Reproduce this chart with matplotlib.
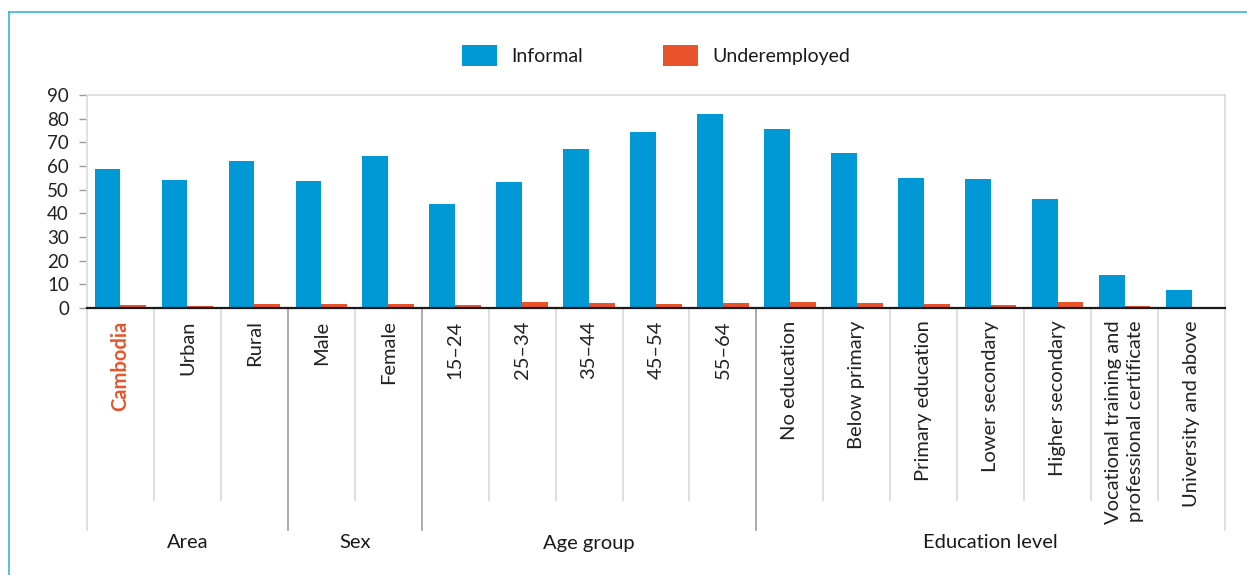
import matplotlib
matplotlib.use("Agg")
import matplotlib.pyplot as plt
from matplotlib.patches import Patch
from matplotlib.lines import Line2D

plt.rcParams['font.family'] = ['Lato', 'DejaVu Sans']

categories = ["Cambodia", "Urban", "Rural", "Male", "Female",
              "15\u201324", "25\u201334", "35\u201344", "45\u201354", "55\u201364",
              "No education", "Below primary", "Primary education",
              "Lower secondary", "Higher secondary",
              "Vocational training and\nprofessional certificate",
              "University and above"]
informal = [58.7, 54.1, 62.1, 53.6, 64.2,
            43.9, 53.2, 67.2, 74.4, 82.0,
            75.6, 65.5, 54.9, 54.5, 46.0, 13.9, 7.6]
underemployed = [1.3, 0.9, 1.7, 1.7, 1.7,
                 1.3, 2.5, 2.1, 1.7, 2.1,
                 2.5, 2.1, 1.7, 1.3, 2.5, 0.8, 0.4]
groups = ["Area", "Sex", "Age group", "Education level"]
group_sizes = [3, 2, 5, 7]
yticks = [0, 10, 20, 30, 40, 50, 60, 70, 80, 90]

BLUE = "#0099d6"
ORANGE = "#e9532b"

W, H = 1247, 575
fig = plt.figure(figsize=(W / 100, H / 100), dpi=100)
ax = fig.add_axes([87 / W, (H - 308) / H, (1225 - 87) / W, (308 - 95) / H])

n = len(categories)
x = list(range(n))
bw = 0.385
ax.bar([i - bw / 2 for i in x], informal, width=bw, color=BLUE, zorder=2)
ax.bar([i + bw / 2 for i in x], underemployed, width=bw, color=ORANGE, zorder=2)

ax.set_xlim(-0.5, n - 0.5)
ax.set_ylim(0, 90)
ax.set_yticks(yticks)
ax.set_yticklabels([str(v) for v in yticks], fontsize=13.5, color="#222222")
ax.tick_params(axis='y', length=6, width=1, color="#9a9a9a", pad=7)

ax.set_xticks(x)
ax.set_xticklabels(categories, rotation=90, fontsize=14.5, color="#222222",
                   va='top', ha='center', multialignment='right',
                   linespacing=1.3)
ax.tick_params(axis='x', length=0, pad=9)
lab0 = ax.get_xticklabels()[0]
lab0.set_color(ORANGE)
lab0.set_fontweight('bold')

for s in ['top', 'right', 'left']:
    ax.spines[s].set_color("#dddddd")
    ax.spines[s].set_linewidth(1.3)
ax.spines['bottom'].set_color("#1a1a1a")
ax.spines['bottom'].set_linewidth(1.6)
ax.spines['bottom'].set_zorder(3)

# separators below axis
trans = ax.get_xaxis_transform()
bounds = []
acc = 0
for g in group_sizes:
    acc += g
    bounds.append(acc)
y_minor = -(500 - 308) / 213
y_major = -(530 - 308) / 213
for b in range(1, n):
    xb = b - 0.5
    if b in bounds:
        ax.plot([xb, xb], [0, y_major], transform=trans, color="#a6a6a6",
                lw=1.3, clip_on=False)
    else:
        ax.plot([xb, xb], [0, y_minor], transform=trans, color="#dcdcdc",
                lw=1.3, clip_on=False)
for xb in [-0.5, n - 0.5]:
    ax.plot([xb, xb], [0, y_major], transform=trans, color="#dcdcdc",
            lw=1.3, clip_on=False)

# group labels
start = 0
y_grp = -(543 - 308) / 213
for g, sz in zip(groups, group_sizes):
    cx = start - 0.5 + sz / 2
    ax.text(cx, y_grp, g, transform=trans, ha='center', va='center',
            fontsize=14.5, color="#1a1a1a")
    start += sz

# legend
handles = [Patch(facecolor=BLUE, label="Informal"),
           Patch(facecolor=ORANGE, label="Underemployed")]
fig.legend(handles=handles, loc='center', bbox_to_anchor=(656 / W, 1 - 55.5 / H),
           ncol=2, frameon=False, fontsize=14, handlelength=1.8,
           handleheight=1.35, handletextpad=0.75, columnspacing=4.1,
           labelcolor="#1a1a1a")

# outer frame
fig.add_artist(Line2D([9 / W, 1], [1 - 12 / H, 1 - 12 / H], transform=fig.transFigure,
                      color="#35b6e2", lw=1.2))
fig.add_artist(Line2D([9 / W, 9 / W], [1 - 12 / H, 0], transform=fig.transFigure,
                      color="#35b6e2", lw=1.2))

fig.savefig("out.png", dpi=100)
